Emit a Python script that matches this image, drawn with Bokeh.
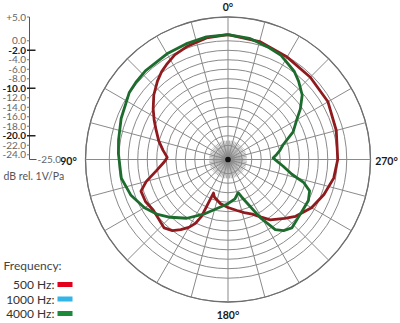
import numpy as np
from bokeh.plotting import figure
from bokeh.models import Range1d
from bokeh.embed import file_html
from bokeh.resources import INLINE
from bokeh.core.properties import value

# ---------------- data ----------------
# angles in degrees, counter-clockwise from 0 (top); 90 = left, 270 = right
red_angle = [0, 10, 20, 27, 33, 37, 42, 49, 56, 62, 67, 75, 82, 88, 92, 99, 105, 110,
             117, 124, 130, 137, 142, 146, 150, 153, 155, 156.6, 160, 170, 180, 190,
             197, 204, 210, 215, 224, 230, 240, 250, 260, 270, 285, 300, 315, 330, 345, 360]
red_db = [1.3, 1.0, 0.3, -0.3, -1.2, -1.8, -2.8, -4.3, -6.0, -7.4, -8.5, -9.9, -11.2, -12.2,
          -11.6, -9.7, -7.2, -5.5, -5.5, -6.0, -5.8, -5.3, -6.0, -7.2, -8.5, -9.9, -11.8,
          -17.3, -16.6, -15.6, -14.9, -14.1, -13.3, -12.4, -11.0, -9.5, -7.8, -6.4, -4.7,
          -3.5, -2.4, -1.9, -1.4, -0.7, -0.5, -0.1, 0.7, 1.3]

green_angle = [0, 10, 20, 30, 43, 50, 56, 69, 80, 87, 100, 110, 120, 128, 135, 145, 156,
               165, 180, 190, 197, 200, 204, 209, 214, 218, 223, 230, 236, 243, 249, 253,
               257, 263, 268, 272, 276, 280, 285, 293, 300, 305, 311, 318, 323, 333, 340,
               350, 360]
green_db = [1.3, 1.2, 0.9, 0.7, 0.5, 0.3, 0.1, -0.9, -1.6, -1.9, -2.2, -3.2, -4.7, -6.2,
            -7.8, -9.9, -12.4, -14.1, -15.7, -16.6, -17.7, -16.6, -14.8, -11.0, -7.2, -6.0,
            -5.3, -5.8, -6.0, -6.0, -6.6, -8.3, -11.2, -13.3, -14.7, -15.5, -14.7, -13.9,
            -13.0, -10.1, -8.3, -6.4, -4.3, -2.8, -1.8, -0.4, 0.1, 0.9, 1.3]

freq_labels = ["500 Hz:", "1000 Hz:", "4000 Hz:"]
freq_colors = ["#e2001a", "#33b5e8", "#1c8a3b"]

db_ticks = [5, 0, -2, -4, -6, -8, -10, -12, -14, -16, -18, -20, -22, -24]
db_tick_labels = ["+5.0", "0.0", "-2.0", "-4.0", "-6.0", "-8.0", "-10.0", "-12.0",
                  "-14.0", "-16.0", "-18.0", "-20.0", "-22.0", "-24.0"]
db_bold = [-2, -10, -20]
ring_db = [-24, -22, -20, -18, -16, -14, -12, -10, -8, -6, -4, -2, 0, 5]
angle_labels = ["0°", "90°", "180°", "270°"]

# ---------------- geometry ----------------
DB_MIN = -25.0
S = 4.75            # px per dB
CX, CY = 227.5, 159.0
W, H = 400, 323
FONT = "Lato"


def X(px):
    return (px - CX) / S


def Y(py):
    return (CY - py) / S


def polar(angles, dbs):
    a = np.radians(np.asarray(angles, dtype=float))
    r = np.asarray(dbs, dtype=float) - DB_MIN
    return -r * np.sin(a), r * np.cos(a)


p = figure(width=W, height=H, output_backend="svg", toolbar_location=None,
           x_range=Range1d(X(0), X(W)), y_range=Range1d(Y(H), Y(0)),
           min_border=0, outline_line_color=None, background_fill_color="white")
p.axis.visible = False
p.grid.visible = False

grid_col = "#8a8a8a"
R_OUT = ring_db[-1] - DB_MIN

# rings
radii = [d - DB_MIN for d in ring_db]
p.circle(x=[0] * len(radii), y=[0] * len(radii), radius=radii, fill_color=None,
         line_color=grid_col, line_width=1)
p.circle(x=[0], y=[0], radius=[R_OUT], fill_color=None, line_color="#6e6e6e", line_width=1.3)

# spokes every 15 deg
sp = np.radians(np.arange(0, 360, 15))
p.segment(x0=0 * sp, y0=0 * sp, x1=-R_OUT * np.sin(sp), y1=R_OUT * np.cos(sp),
          line_color=grid_col, line_width=1)
# dense inner spokes
sp2 = np.radians(np.arange(0, 360, 5))
r_in = 4.0
p.segment(x0=0 * sp2, y0=0 * sp2, x1=-r_in * np.sin(sp2), y1=r_in * np.cos(sp2),
          line_color=grid_col, line_width=0.7)
p.circle(x=[0], y=[0], radius=[0.6], fill_color="#111111", line_color=None)

# curves
rx, ry = polar(red_angle, red_db)
p.line(rx, ry, line_color="#8f1b1f", line_width=2.8, line_join="round")
gx, gy = polar(green_angle, green_db)
p.line(gx, gy, line_color="#1d6b2d", line_width=2.8, line_join="round")

# angle labels
ang_pos = [(CX, 6.5), (68, CY + 1), (CX, 314), (386, CY + 1)]
for lab, (px_, py_) in zip(angle_labels, ang_pos):
    p.text(x=[X(px_)], y=[Y(py_)], text=[lab], text_font=value(FONT),
           text_font_style="bold", text_font_size="10.5px", text_color="#1a1a1a",
           text_align="center", text_baseline="middle")

# dB scale on the left
AX = 29.0
ytop = db_ticks[0] - DB_MIN
p.segment(x0=[X(AX)], y0=[ytop], x1=[X(AX)], y1=[0.0], line_color="#555555", line_width=1)
p.segment(x0=[X(AX)], y0=[0.0], x1=[X(36)], y1=[0.0], line_color="#555555", line_width=1)
for d, lab in zip(db_ticks, db_tick_labels):
    yy = d - DB_MIN
    bold = d in db_bold
    p.segment(x0=[X(26.5)], y0=[yy], x1=[X(35 if bold else 29)], y1=[yy],
              line_color="#222222" if bold else "#777777", line_width=1.4 if bold else 1)
    p.text(x=[X(25.5)], y=[yy], text=[lab], text_font=value(FONT),
           text_font_style="bold" if bold else "normal", text_font_size="10px",
           text_color="#1a1a1a" if bold else "#666666",
           text_align="right", text_baseline="middle")
p.text(x=[X(37)], y=[0.0], text=["-25.0"], text_font=value(FONT), text_font_size="10px",
       text_color="#666666", text_align="left", text_baseline="middle")
p.text(x=[X(3)], y=[Y(175)], text=["dB rel. 1V/Pa"], text_font=value(FONT),
       text_font_size="10.5px", text_color="#555555", text_align="left", text_baseline="middle")

# legend
p.text(x=[X(3)], y=[Y(265)], text=["Frequency:"], text_font=value(FONT),
       text_font_size="12px", text_color="#444444", text_align="left", text_baseline="middle")
for i, (lab, col) in enumerate(zip(freq_labels, freq_colors)):
    py_ = 284 + 14.5 * i
    p.text(x=[X(54)], y=[Y(py_)], text=[lab], text_font=value(FONT),
           text_font_size="12px", text_color="#333333", text_align="right",
           text_baseline="middle")
    p.quad(left=[X(57)], right=[X(72)], bottom=[Y(py_ + 2.5)], top=[Y(py_ - 2.5)],
           fill_color=col, line_color=None)

open("out.html", "w").write(file_html(p, INLINE))
